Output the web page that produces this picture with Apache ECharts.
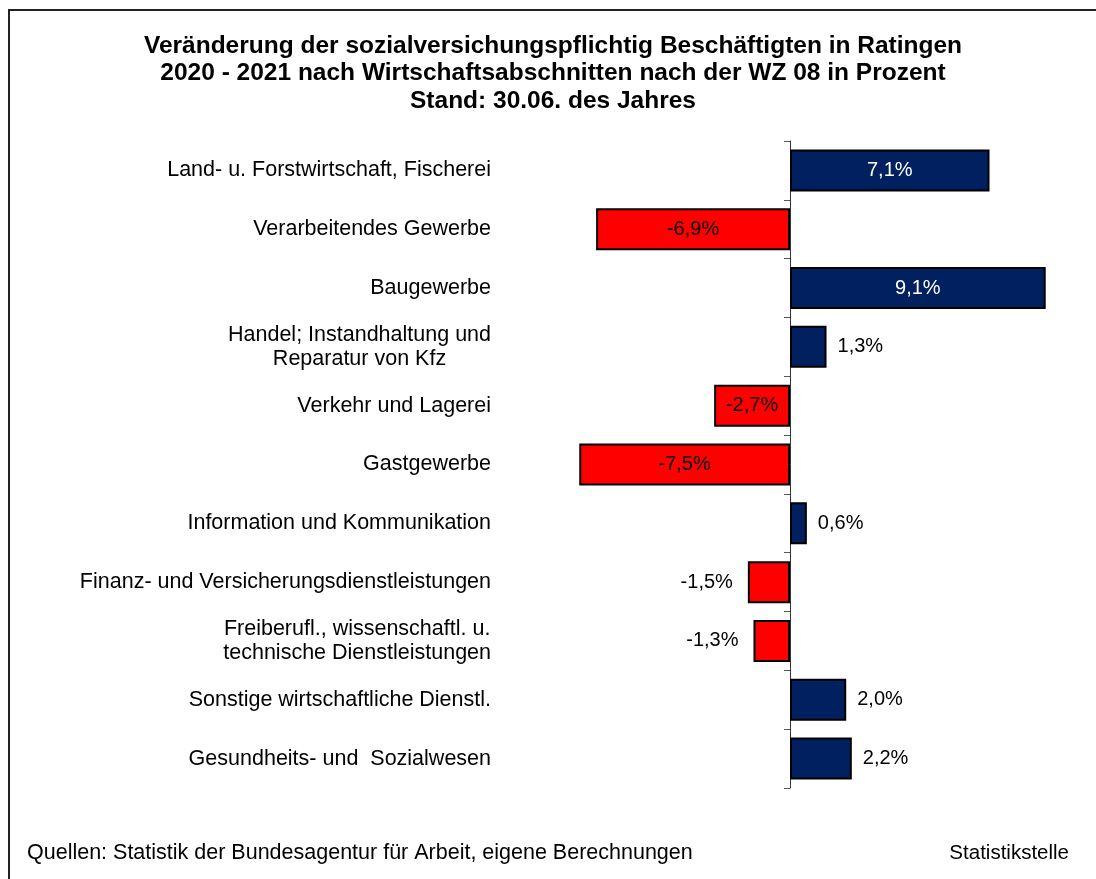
<!DOCTYPE html>
<html><head><meta charset="utf-8">
<script src="https://cdn.jsdelivr.net/npm/echarts@6/dist/echarts.min.js"></script>
<style>html,body{margin:0;padding:0;background:#fff}#c{width:1096px;height:879px}</style>
</head><body><div id="c"></div>
<script>
const categories = [
  'Land- u. Forstwirtschaft, Fischerei',
  'Verarbeitendes Gewerbe',
  'Baugewerbe',
  'Handel; Instandhaltung und\nReparatur von Kfz',
  'Verkehr und Lagerei',
  'Gastgewerbe',
  'Information und Kommunikation',
  'Finanz- und Versicherungsdienstleistungen',
  'Freiberufl., wissenschaftl. u.\ntechnische Dienstleistungen',
  'Sonstige wirtschaftliche Dienstl.',
  'Gesundheits- und  Sozialwesen'
];
const values = [7.1, -6.9, 9.1, 1.3, -2.7, -7.5, 0.6, -1.5, -1.3, 2.0, 2.2];
const titleLines = [
  'Veränderung der sozialversichungspflichtig Beschäftigten in Ratingen',
  '2020 - 2021 nach Wirtschaftsabschnitten nach der WZ 08 in Prozent',
  'Stand: 30.06. des Jahres'
];
const sourceText = 'Quellen: Statistik der Bundesagentur für Arbeit, eigene Berechnungen';
const creditText = 'Statistikstelle';

const FONT = '"Liberation Sans", Arial, sans-serif';
const BLUE = '#00205F';
const RED = '#FF0000';

const fmt = v => v.toFixed(1).replace('.', ',') + '%';

const data = values.map(v => {
  const inside = Math.abs(v) >= 2.5;
  let label;
  if (inside) {
    label = { position: 'inside', color: v > 0 ? '#fff' : '#000' };
  } else if (v > 0) {
    label = { position: 'right', distance: 11, color: '#000' };
  } else {
    label = { position: 'left', distance: 15, color: '#000' };
  }
  return { value: v, itemStyle: { color: v > 0 ? BLUE : RED }, label };
});

const chart = echarts.init(document.getElementById('c'));
chart.setOption({
  animation: false,
  backgroundColor: '#fff',
  title: {
    text: titleLines.join('\n'),
    left: 548, top: 27, textAlign: 'center',
    textStyle: { fontFamily: FONT, fontSize: 24.5, fontWeight: 'bold', color: '#000', lineHeight: 27.5 }
  },
  graphic: [
    { type: 'rect', shape: { x: 9, y: 10, width: 1200, height: 1000 },
      style: { fill: 'none', stroke: '#222', lineWidth: 2 }, silent: true, z: 100 },
    { type: 'text', left: 27, top: 842,
      style: { text: sourceText, font: '21.5px ' + FONT, fill: '#000' } },
    { type: 'text', right: 27, top: 843,
      style: { text: creditText, font: '20.5px ' + FONT, fill: '#000' } }
  ],
  grid: { left: 509, right: 25, top: 141, bottom: 91, containLabel: false, outerBoundsMode: 'none' },
  xAxis: {
    type: 'value', min: -10, max: 10,
    axisLine: { show: false }, axisTick: { show: false },
    axisLabel: { show: false }, splitLine: { show: false }
  },
  yAxis: {
    type: 'category', data: categories, inverse: true,
    axisLine: { show: true, onZero: true, lineStyle: { color: '#333', width: 1 } },
    axisTick: { show: true, length: 6, lineStyle: { color: '#555' } },
    axisLabel: {
      interval: 0, margin: 18, fontFamily: FONT, fontSize: 21.5, color: '#000', lineHeight: 24,
      hideOverlap: false,
      formatter: s => s.indexOf('\n') >= 0 ? s.split('\n').map(l => '{c|' + l + '}').join('\n') : s,
      rich: { c: { align: 'center', fontFamily: FONT, fontSize: 21.5, color: '#000', lineHeight: 24 } }
    }
  },
  series: [{
    type: 'bar', data: data, barCategoryGap: '28.6%',
    itemStyle: { borderColor: '#000', borderWidth: 2 },
    label: { show: true, fontFamily: FONT, fontSize: 20, formatter: p => fmt(p.value) }
  }]
});
</script></body></html>
